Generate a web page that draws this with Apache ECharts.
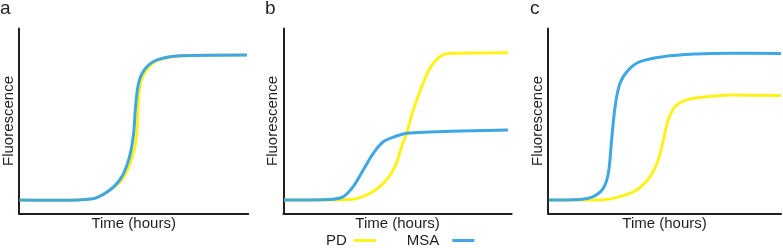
<!DOCTYPE html>
<html>
<head>
<meta charset="utf-8">
<script src="https://cdn.jsdelivr.net/npm/echarts@6/dist/echarts.min.js"></script>
<style>
html,body{margin:0;padding:0;background:#fff;}
#chart{width:783px;height:248px;}
</style>
</head>
<body>
<div id="chart"></div>
<script>
// Panel labels, series names, axis titles
const panelLabels = ['a', 'b', 'c'];
const seriesNames = ['PD', 'MSA'];
const xAxisTitle = 'Time (hours)';
const yAxisTitle = 'Fluorescence';

// [time, fluorescence] in arbitrary units (0-100 on each axis)
const panelA_PD = [[0.3,7.3],[18,7.1],[31.4,7.8],[38.6,11.8],[45.3,19.0],[49.2,29.8],[51.3,42.4],[52.0,58.6],[53.1,71.2],[56.1,78.5],[61.1,83.0],[70.8,85.3],[99.4,85.7]];
const panelA_MSA = [[0.3,7.3],[18,7.1],[31.4,7.8],[38.6,11.8],[44.4,19.0],[48.0,29.8],[49.9,42.4],[50.9,58.6],[52.3,71.2],[55.2,78.5],[60.3,83.0],[70.4,85.3],[99.4,85.7]];
const panelB_PD = [[0.3,7.3],[29.2,7.6],[36.5,10.0],[43.8,16.3],[48.9,25.3],[51.8,36.1],[54.0,43.4],[56.9,55.9],[60.6,68.5],[64.2,78.5],[68.6,84.8],[73.0,86.6],[98.4,86.9]];
const panelB_MSA = [[0.3,7.3],[20.4,7.6],[26.3,9.1],[30.6,14.5],[35.0,23.5],[39.4,32.5],[43.8,38.8],[49.6,41.9],[54.0,43.4],[64.2,44.1],[73.0,44.4],[98.4,45.1]];
const panelC_PD = [[0.4,7.3],[22.3,7.3],[30.9,9.1],[38.1,12.7],[43.8,19.9],[47.3,28.9],[49.5,39.7],[51.6,50.5],[54.5,57.7],[59.5,61.4],[68.1,63.1],[78.1,64.1],[100,63.8]];
const panelC_MSA = [[0.4,7.3],[13.7,7.6],[19.4,9.1],[23.7,13.6],[25.9,21.7],[27.3,39.7],[28.8,57.7],[30.9,70.4],[34.5,77.6],[39.5,82.1],[49.5,84.8],[63.8,86.2],[78.1,86.6],[100,86.5]];

const panels = [
  { label: panelLabels[0], pd: panelA_PD, msa: panelA_MSA },
  { label: panelLabels[1], pd: panelB_PD, msa: panelB_MSA },
  { label: panelLabels[2], pd: panelC_PD, msa: panelC_MSA }
];

const YELLOW = '#FFF21A';
const BLUE = '#3FA7E4';
const INK = '#231F20';
const FONT = '"Liberation Sans", Arial, sans-serif';

const gridPos = [
  { left: 17.5, right: 534.7 },
  { left: 283.3, right: 271.3 },
  { left: 548, right: 2 }
];
const labelPos = [[0, -1], [265, -1], [530, -1]];

const grids = [], xAxes = [], yAxes = [], series = [], graphics = [];
panels.forEach((p, i) => {
  grids.push({ left: gridPos[i].left, right: gridPos[i].right, top: 28.5, bottom: 34.5, containLabel: false });
  const axisCommon = {
    type: 'value', min: 0, max: 100, gridIndex: i,
    axisLine: { show: true, lineStyle: { color: INK, width: 2 } },
    axisTick: { show: false }, axisLabel: { show: false }, splitLine: { show: false },
    nameLocation: 'middle',
    nameTextStyle: { fontFamily: FONT, fontSize: 15, color: INK }
  };
  xAxes.push(Object.assign({}, axisCommon, { name: xAxisTitle, nameGap: 3 }));
  yAxes.push(Object.assign({}, axisCommon, { name: yAxisTitle, nameGap: 3 }));
  series.push({
    name: seriesNames[0], type: 'line', xAxisIndex: i, yAxisIndex: i,
    data: p.pd, smooth: 0.35, showSymbol: false, symbol: 'none',
    lineStyle: { color: YELLOW, width: 3 }, itemStyle: { color: YELLOW }, clip: false, z: 2
  });
  series.push({
    name: seriesNames[1], type: 'line', xAxisIndex: i, yAxisIndex: i,
    data: p.msa, smooth: 0.35, showSymbol: false, symbol: 'none',
    lineStyle: { color: BLUE, width: 3 }, itemStyle: { color: BLUE }, clip: false, z: 3
  });
  graphics.push({
    type: 'text', left: labelPos[i][0], top: labelPos[i][1],
    style: { text: p.label, font: '19px ' + FONT, fill: INK }
  });
});

const chart = echarts.init(document.getElementById('chart'), null, { renderer: 'canvas' });
chart.setOption({
  animation: false,
  backgroundColor: '#ffffff',
  grid: grids,
  xAxis: xAxes,
  yAxis: yAxes,
  series: series,
  graphic: graphics,
  legend: {
    data: [
      { name: seriesNames[0], textStyle: { padding: [0, 2, 0, 0] } },
      { name: seriesNames[1], textStyle: { padding: [0, 8, 0, 0] } }
    ],
    left: 326, top: 233,
    align: 'right',
    icon: 'rect',
    itemWidth: 22, itemHeight: 3,
    itemGap: 31,
    padding: 0,
    textStyle: { fontFamily: FONT, fontSize: 15, color: INK }
  }
});
</script>
</body>
</html>
